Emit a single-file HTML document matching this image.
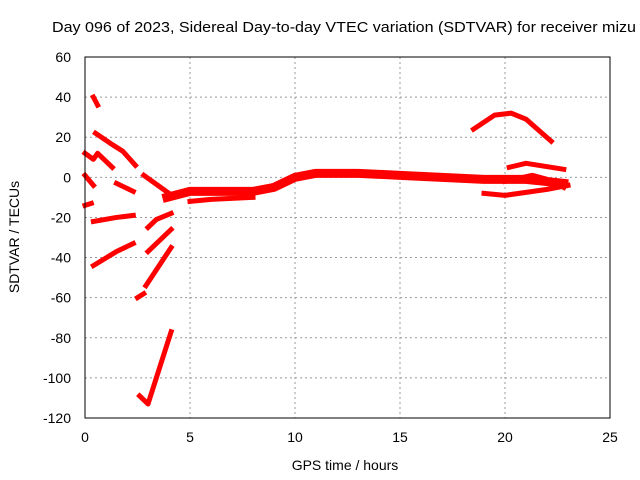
<!DOCTYPE html>
<html><head><meta charset="utf-8"><style>
body{margin:0;background:#fff}
svg{display:block;font-family:"Liberation Sans",sans-serif;font-size:14px}
</style></head><body>
<svg id="c" width="640" height="480">
<rect width="640" height="480" fill="#fff"/>
<text x="52" y="32" font-size="15" textLength="584" lengthAdjust="spacingAndGlyphs">Day 096 of 2023, Sidereal Day-to-day VTEC variation (SDTVAR) for receiver mizu</text>
<g id="grid"></g><g id="series"></g>
<rect x="85" y="57" width="525" height="361" fill="none" stroke="#000"/>
<g id="ticks"></g>
<text x="345" y="470" text-anchor="middle">GPS time / hours</text>
<text transform="translate(19,237) rotate(-90)" text-anchor="middle">SDTVAR / TECUs</text>
</svg>
<script>
const xTicks=[0,5,10,15,20,25];
const yTicks=[60,40,20,0,-20,-40,-60,-80,-100,-120];
const seg1=[[0.4,40],[0.6,36]];
const seg2=[[0.5,22],[1.2,17],[1.8,13],[2.4,6]];
const seg3=[[0,12],[0.4,9],[0.6,12],[1.3,5]];
const seg4=[[0,1],[0.4,-4]];
const seg5=[[0,-14],[0.3,-13]];
const seg6=[[1.5,-3],[2.3,-7]];
const seg7=[[0.4,-22],[1.5,-20],[2.3,-19]];
const seg8=[[0.4,-44],[1.5,-37],[2.3,-33]];
const seg9=[[2.5,-60],[2.8,-58]];
const seg10=[[2.6,-109],[3.0,-113],[4.1,-77]];
const seg11=[[2.9,-54],[4.1,-35]];
const seg12=[[3.0,-37],[4.1,-26]];
const seg13=[[3.0,-25],[3.4,-21],[4.1,-18]];
const seg14=[[2.8,1],[4.0,-8]];
const seg15=[[3.9,-10],[5,-7],[8,-7],[9,-5],[10,0],[11,2],[13,2],[15,1],[17,0],[19,-1],[21,-1],[22.8,-3]];
const seg16=[[5,-12],[6,-11],[8,-10]];
const seg17=[[19,-8],[20,-9],[22,-6],[23,-4]];
const seg18=[[18.5,24],[19.5,31],[20.3,32],[21,29],[22.2,18]];
const seg19=[[20.2,5],[21,7],[22.8,4]];
const seg20=[[20,-2],[21.3,1],[22,-1],[22.8,-5]];
const segments=[seg1,seg2,seg3,seg4,seg5,seg6,seg7,seg8,seg9,seg10,seg11,seg12,seg13,seg14,seg15,seg16,seg17,seg18,seg19,seg20];
const widths=[5,5,5,5,5,5,5,5,5,5,5,5,5,5,9,5,5,5,5,5];
const NS='http://www.w3.org/2000/svg';
const X=h=>85+h*21, Y=v=>57+(60-v)*361/180;
const g=document.getElementById('grid'),t=document.getElementById('ticks'),s=document.getElementById('series');
function mk(tag,at,p){const e=document.createElementNS(NS,tag);for(const k in at)e.setAttribute(k,at[k]);p.appendChild(e);return e;}
xTicks.forEach(v=>{
 if(v>0&&v<25){const l=mk('line',{x1:X(v),x2:X(v),y1:57,y2:418,stroke:'#999','stroke-dasharray':'2,3'},g);
 
 }
 const tx=mk('text',{x:X(v),y:442,'text-anchor':'middle'},t);tx.textContent=v;
 
 
});
yTicks.forEach(v=>{
 if(v<60&&v>-120){const l=mk('line',{x1:85,x2:610,y1:Y(v),y2:Y(v),stroke:'#999','stroke-dasharray':'2,3'},g);
 
 }
 const tx=mk('text',{x:71,y:Y(v)+5,'text-anchor':'end'},t);tx.textContent=v;
 
 
});
segments.forEach((sg,i)=>{
 const p=mk('polyline',{points:sg.map(d=>X(d[0])+','+Y(d[1])).join(' '),fill:'none',stroke:'#f00','stroke-width':widths[i],'stroke-linejoin':'round','stroke-linecap':'square'},s);
 
 
});
</script>
</body></html>
